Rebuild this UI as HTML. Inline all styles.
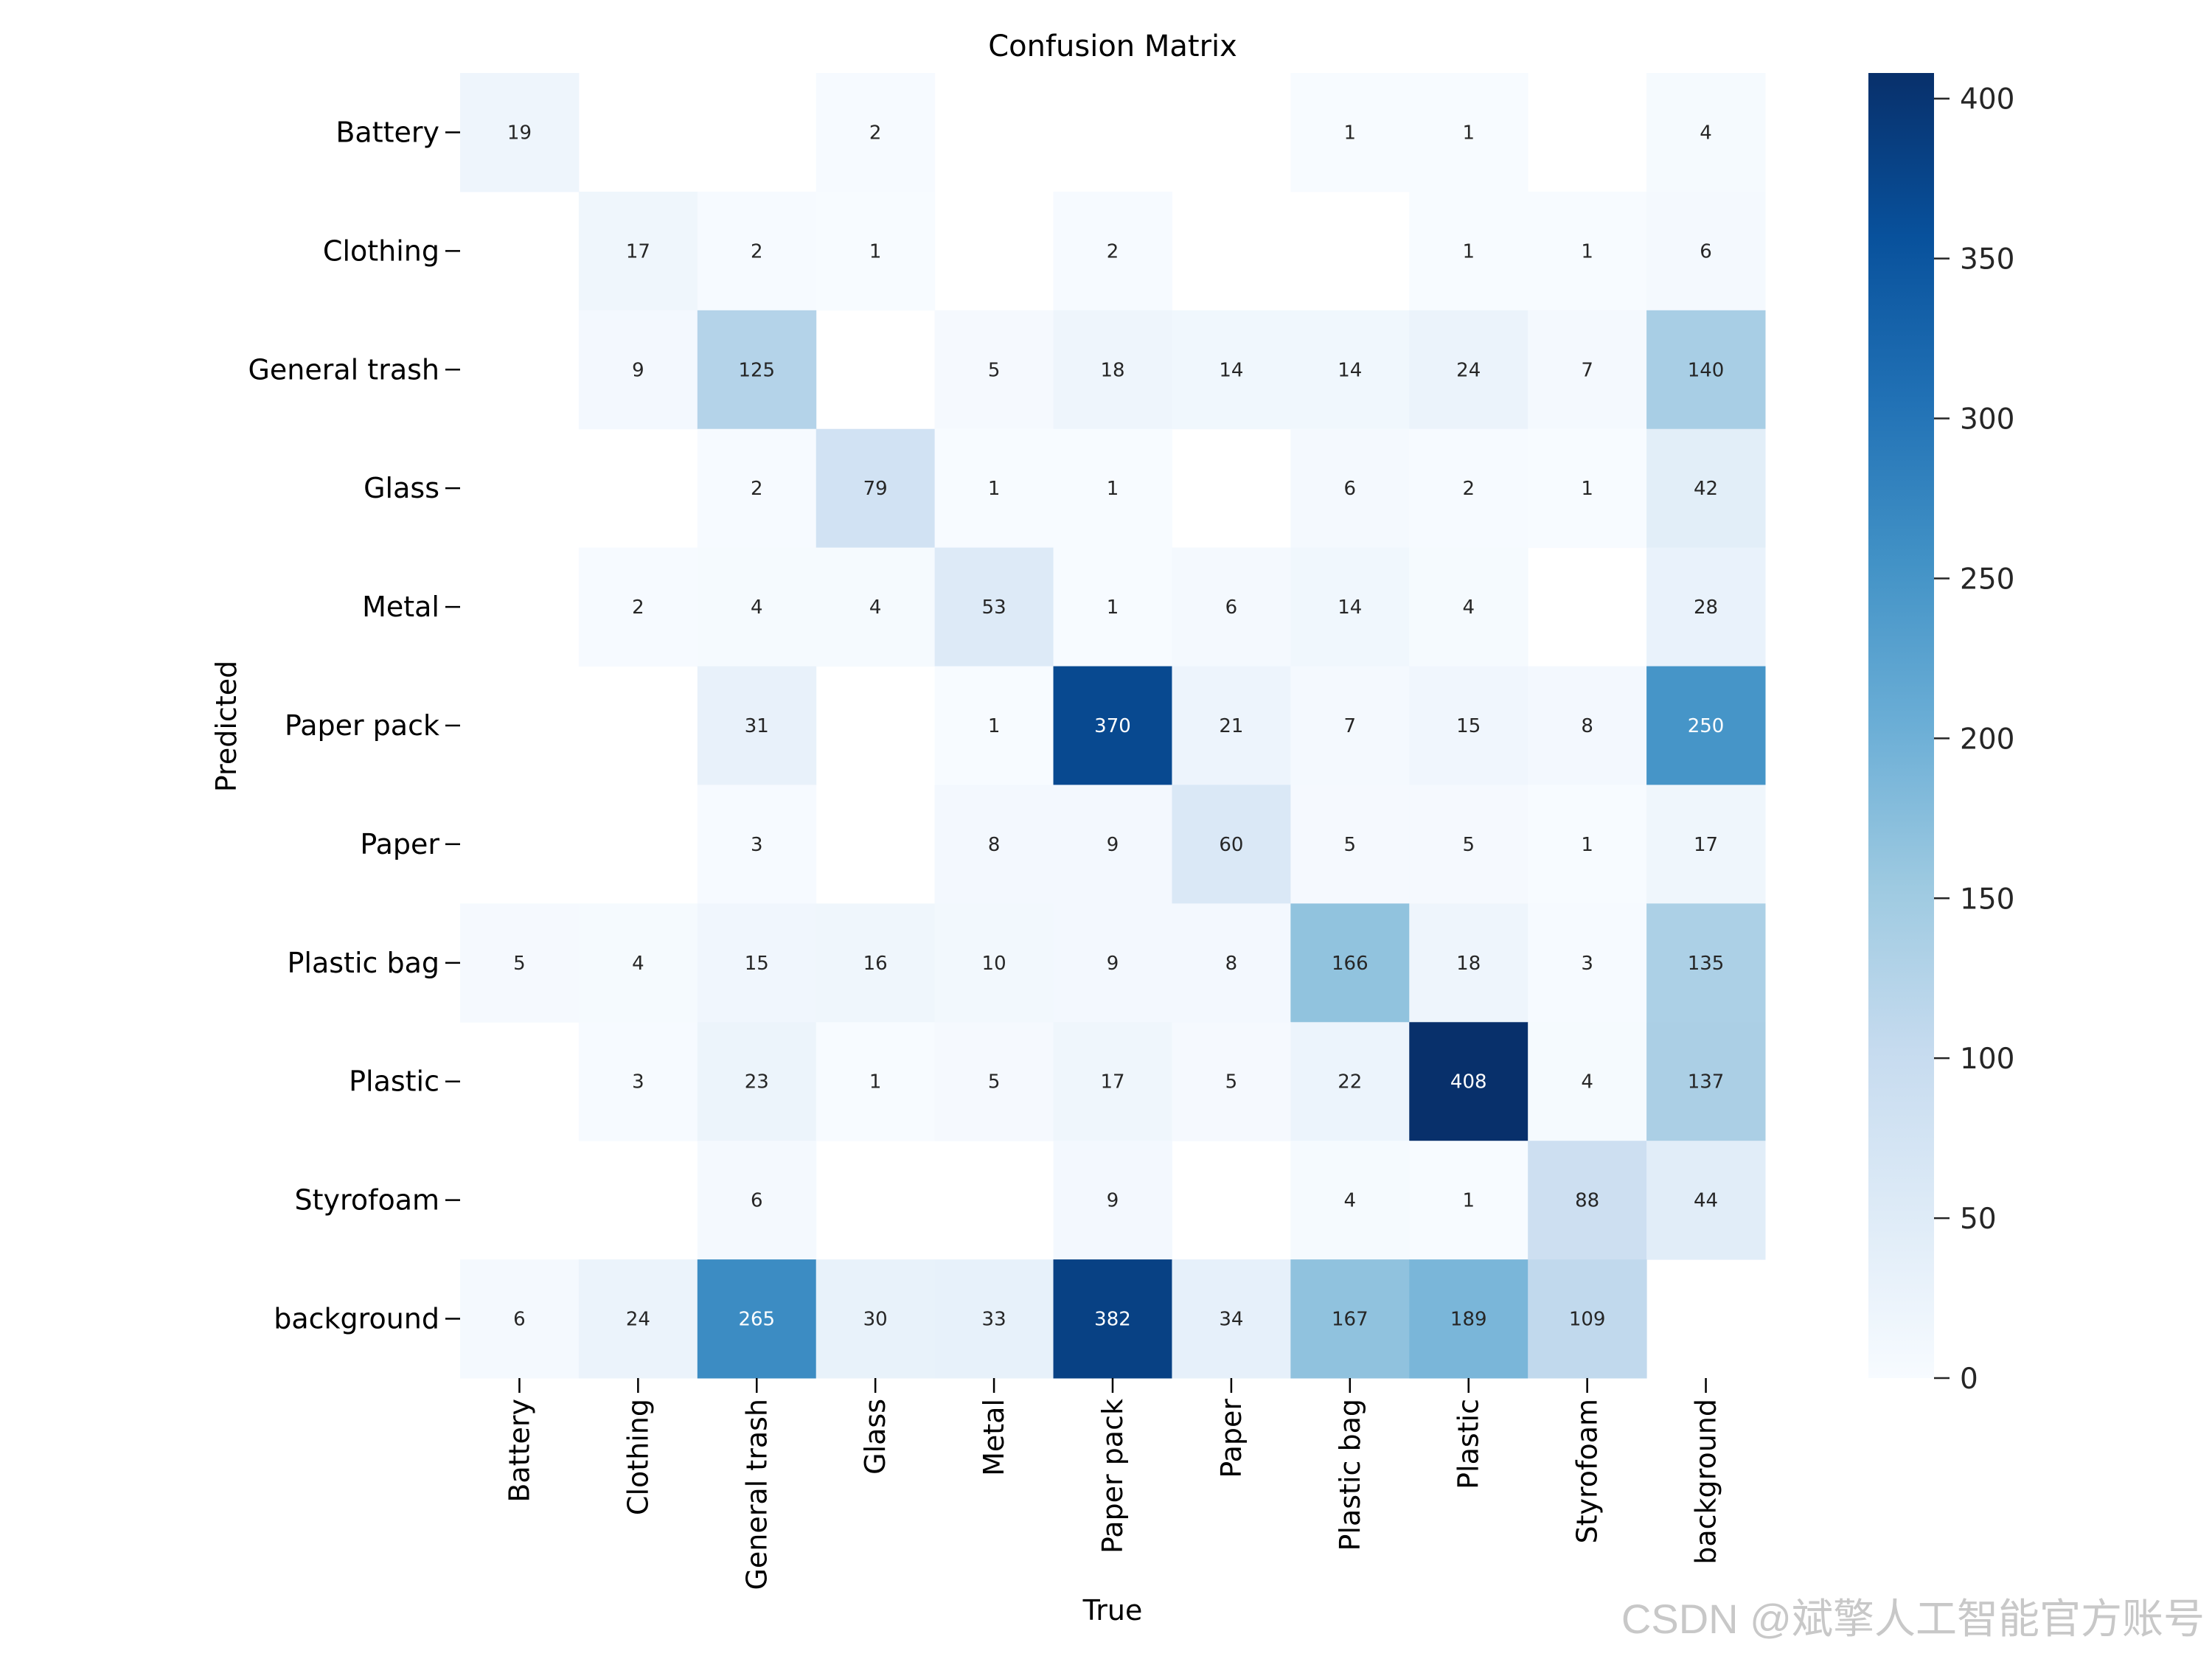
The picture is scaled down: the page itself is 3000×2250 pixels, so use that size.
<!DOCTYPE html>
<html><head><meta charset="utf-8"><style>
html,body{margin:0;padding:0;background:#fff;}
svg{display:block;font-family:"DejaVu Sans","Liberation Sans",sans-serif;}
</style></head><body>
<svg id="chart" width="3000" height="2250" viewBox="0 0 3000 2250" xmlns="http://www.w3.org/2000/svg">
<defs>
<linearGradient id="cbgrad" x1="0" y1="1" x2="0" y2="0">
<stop offset="0" stop-color="#f7fbff"/><stop offset="0.125" stop-color="#deebf7"/><stop offset="0.25" stop-color="#c6dbef"/><stop offset="0.375" stop-color="#9ecae1"/><stop offset="0.5" stop-color="#6baed6"/><stop offset="0.625" stop-color="#4292c6"/><stop offset="0.75" stop-color="#2171b5"/><stop offset="0.875" stop-color="#08519c"/><stop offset="1" stop-color="#08306b"/>
</linearGradient>
</defs>
<text x="1509" y="76" font-size="40" text-anchor="middle" fill="#000">Confusion Matrix</text>
<g id="cells"></g>
<g id="axes"></g>
<text x="1509" y="2197" font-size="38" text-anchor="middle" fill="#000">True</text>
<text transform="translate(320,985) rotate(-90)" font-size="38" text-anchor="middle" fill="#000">Predicted</text>
<rect x="2534" y="99" width="89" height="1770" fill="url(#cbgrad)"/>
<g id="cbticks"></g>
<text x="2990" y="2215" font-size="56" text-anchor="end" fill="#c8c8c8" font-family="'Liberation Sans','Noto Sans CJK SC',sans-serif">CSDN @斌擎人工智能官方账号</text>
</svg>
<script>
const labels = ["Battery","Clothing","General trash","Glass","Metal","Paper pack","Paper","Plastic bag","Plastic","Styrofoam","background"];
const row0 = [19,0,0,2,0,0,0,1,1,0,4];
const row1 = [0,17,2,1,0,2,0,0,1,1,6];
const row2 = [0,9,125,0,5,18,14,14,24,7,140];
const row3 = [0,0,2,79,1,1,0,6,2,1,42];
const row4 = [0,2,4,4,53,1,6,14,4,0,28];
const row5 = [0,0,31,0,1,370,21,7,15,8,250];
const row6 = [0,0,3,0,8,9,60,5,5,1,17];
const row7 = [5,4,15,16,10,9,8,166,18,3,135];
const row8 = [0,3,23,1,5,17,5,22,408,4,137];
const row9 = [0,0,6,0,0,9,0,4,1,88,44];
const row10 = [6,24,265,30,33,382,34,167,189,109,0];
const matrix = [row0,row1,row2,row3,row4,row5,row6,row7,row8,row9,row10];
const cbTicks = [0,50,100,150,200,250,300,350,400];
const vmax = 408;

const NS="http://www.w3.org/2000/svg";
const L=624,R=2394,T=99,B=1869;
const n=labels.length, cw=(R-L)/n, ch=(B-T)/n;
const xPos=i=>L+i*cw, yPos=i=>T+i*ch;
const cbY=v=>B-(v/vmax)*(B-T);
const stops=[[247,251,255],[222,235,247],[198,219,239],[158,202,225],[107,174,214],[66,146,198],[33,113,181],[8,81,156],[8,48,107]];
function blues(t){t=Math.max(0,Math.min(1,t));const s=t*8,i=Math.min(7,Math.floor(s)),f=s-i;
 const c=stops[i].map((a,k)=>Math.round(a+(stops[i+1][k]-a)*f));return `rgb(${c.join(',')})`;}
function mk(tag,attrs,parent){const e=document.createElementNS(NS,tag);for(const k in attrs)e.setAttribute(k,attrs[k]);parent.appendChild(e);return e;}
const cells=document.getElementById('cells'), axes=document.getElementById('axes'), cbt=document.getElementById('cbticks');
matrix.forEach((row,r)=>row.forEach((v,c)=>{
 if(!v)return;
 const rect=mk('rect',{x:xPos(c),y:yPos(r),width:cw+0.5,height:ch+0.5,fill:blues(v/vmax)},cells);
 
 
 const t=mk('text',{x:xPos(c)+cw/2,y:yPos(r)+ch/2+9,'font-size':26,'text-anchor':'middle',fill:v>220?'#fff':'#262626'},cells);
 t.textContent=v;
 
 
}));
labels.forEach((lab,i)=>{
 const yc=yPos(i)+ch/2;
 mk('line',{x1:L-20,x2:L,y1:yc,y2:yc,stroke:'#000','stroke-width':2.5},axes);
 const t=mk('text',{x:L-28,y:yc+13,'font-size':38,'text-anchor':'end',fill:'#000'},axes);
 t.textContent=lab;
 
 
 const xc=xPos(i)+cw/2;
 mk('line',{x1:xc,x2:xc,y1:B,y2:B+20,stroke:'#000','stroke-width':2.5},axes);
 const tx=mk('text',{transform:`translate(${xc+13},${B+28}) rotate(-90)`,'font-size':38,'text-anchor':'end',fill:'#000'},axes);
 tx.textContent=lab;
 
 
});
cbTicks.forEach(v=>{
 const y=cbY(v);
 mk('line',{x1:2623,x2:2644,y1:y,y2:y,stroke:'#262626','stroke-width':2.5},cbt);
 const t=mk('text',{x:2658,y:y+14,'font-size':39,fill:'#262626'},cbt);
 t.textContent=v;
 
 
});
</script>
</body></html>
